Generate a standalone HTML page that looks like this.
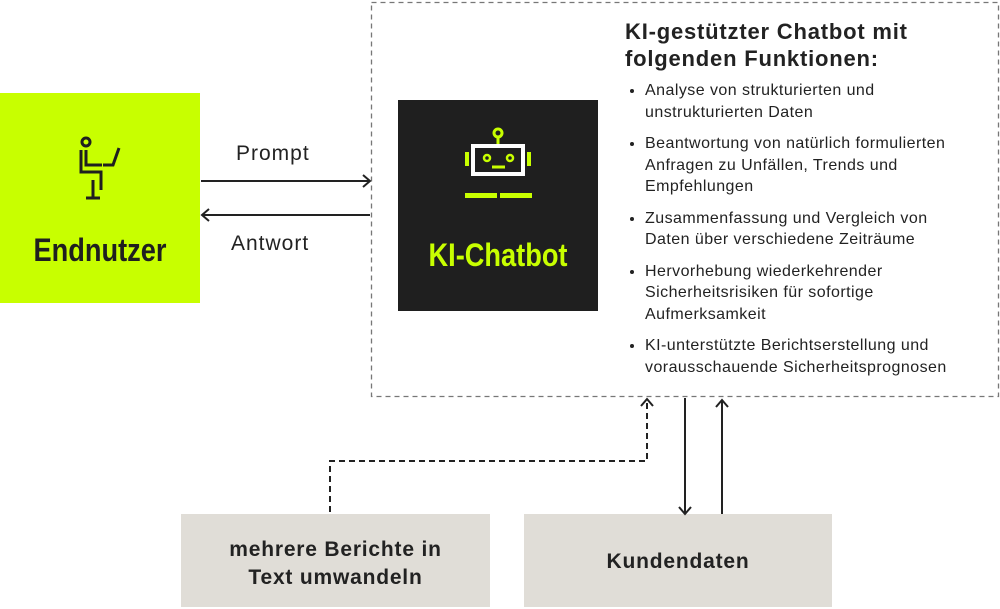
<!DOCTYPE html>
<html><head><meta charset="utf-8"><style>
body{margin:0;width:1000px;height:609px;background:#fff;position:relative;overflow:hidden;font-family:"Liberation Sans",sans-serif;color:#222}
.abs{position:absolute}
.cond{font-family:"Liberation Sans Narrow","Liberation Sans",sans-serif;font-weight:bold;transform:scaleX(.85);}
li{margin-bottom:10px;white-space:nowrap}
</style></head><body>
<div class="abs" style="left:0;top:93px;width:200px;height:210px;background:#c8ff00"></div>
<div class="abs" style="left:398px;top:100px;width:200px;height:211px;background:#1f1f1f"></div>
<div class="abs" style="left:181px;top:514px;width:309px;height:93px;background:#e0ddd7"></div>
<div class="abs" style="left:524px;top:514px;width:308px;height:93px;background:#e0ddd7"></div>
<svg class="abs" style="left:0;top:0" width="1000" height="609">
<rect x="371.5" y="2.5" width="627" height="394" fill="none" stroke="#777" stroke-dasharray="5,4" stroke-width="1.3"/>
<g stroke="#222" stroke-width="2" fill="none">
<line x1="201" y1="181" x2="370" y2="181"/><polyline points="363,175 370,181 363,187"/>
<line x1="202" y1="215" x2="370" y2="215"/><polyline points="209,209 202,215 209,221"/>
<polyline points="330,512 330,461 647,461 647,400" stroke-dasharray="6,4"/><polyline points="641,406 647,399 653,406"/>
<line x1="685" y1="398" x2="685" y2="514"/><polyline points="679,507 685,514 691,507"/>
<line x1="722" y1="400" x2="722" y2="514"/><polyline points="716,407 722,400 728,407"/>
</g>
<g stroke="#1f1f1f" stroke-width="3" fill="none">
<circle cx="86" cy="142" r="4"/>
<path d="M81,150v22h20v18M86,150v15h16M103,165h10l6-17M86,198h14M93,180v18"/>
</g>
<g>
<circle cx="498" cy="133" r="4" fill="none" stroke="#c8ff00" stroke-width="3"/>
<line x1="498" y1="137" x2="498" y2="145" stroke="#c8ff00" stroke-width="3"/>
<rect x="473" y="146" width="50" height="28" fill="#1f1f1f" stroke="#fff" stroke-width="4"/>
<circle cx="487" cy="158" r="3" fill="none" stroke="#c8ff00" stroke-width="2.5"/>
<circle cx="510" cy="158" r="3" fill="none" stroke="#c8ff00" stroke-width="2.5"/>
<line x1="492" y1="167" x2="505" y2="167" stroke="#c8ff00" stroke-width="3"/>
<rect x="465" y="152" width="4" height="14" fill="#c8ff00"/><rect x="527" y="152" width="4" height="14" fill="#c8ff00"/>
<rect x="465" y="193" width="32" height="5" fill="#c8ff00"/><rect x="500" y="193" width="32" height="5" fill="#c8ff00"/>
</g>
</svg>
<div class="abs cond" style="left:0;width:200px;top:232px;text-align:center;font-size:32px;color:#1f1f1f">Endnutzer</div>
<div class="abs cond" style="left:398px;width:200px;top:237px;text-align:center;font-size:32px;color:#c8ff00">KI-Chatbot</div>
<div class="abs" style="left:236px;top:142px;font-size:21px;letter-spacing:1px">Prompt</div>
<div class="abs" style="left:231px;top:232px;font-size:21px;letter-spacing:1px">Antwort</div>
<div class="abs" style="left:625px;top:18px;font-size:22px;font-weight:bold;line-height:27px;color:#222;letter-spacing:.8px;white-space:nowrap">KI-gestützter Chatbot mit<br>folgenden Funktionen:</div>
<ul class="abs" style="left:625px;top:80px;margin:0;padding-left:20px;font-size:16px;line-height:21.5px;color:#222;letter-spacing:.45px">
<li>Analyse von strukturierten und<br>unstrukturierten Daten</li>
<li>Beantwortung von natürlich formulierten<br>Anfragen zu Unfällen, Trends und<br>Empfehlungen</li>
<li>Zusammenfassung und Vergleich von<br>Daten über verschiedene Zeiträume</li>
<li>Hervorhebung wiederkehrender<br>Sicherheitsrisiken für sofortige<br>Aufmerksamkeit</li>
<li>KI-unterstützte Berichtserstellung und<br>vorausschauende Sicherheitsprognosen</li>
</ul>
<div class="abs" style="left:181px;width:309px;top:536px;text-align:center;font-size:21px;font-weight:bold;line-height:28px;letter-spacing:.8px">mehrere Berichte in<br>Text umwandeln</div>
<div class="abs" style="left:524px;width:308px;top:550px;text-align:center;font-size:21px;font-weight:bold;letter-spacing:.8px">Kundendaten</div>
</body></html>
